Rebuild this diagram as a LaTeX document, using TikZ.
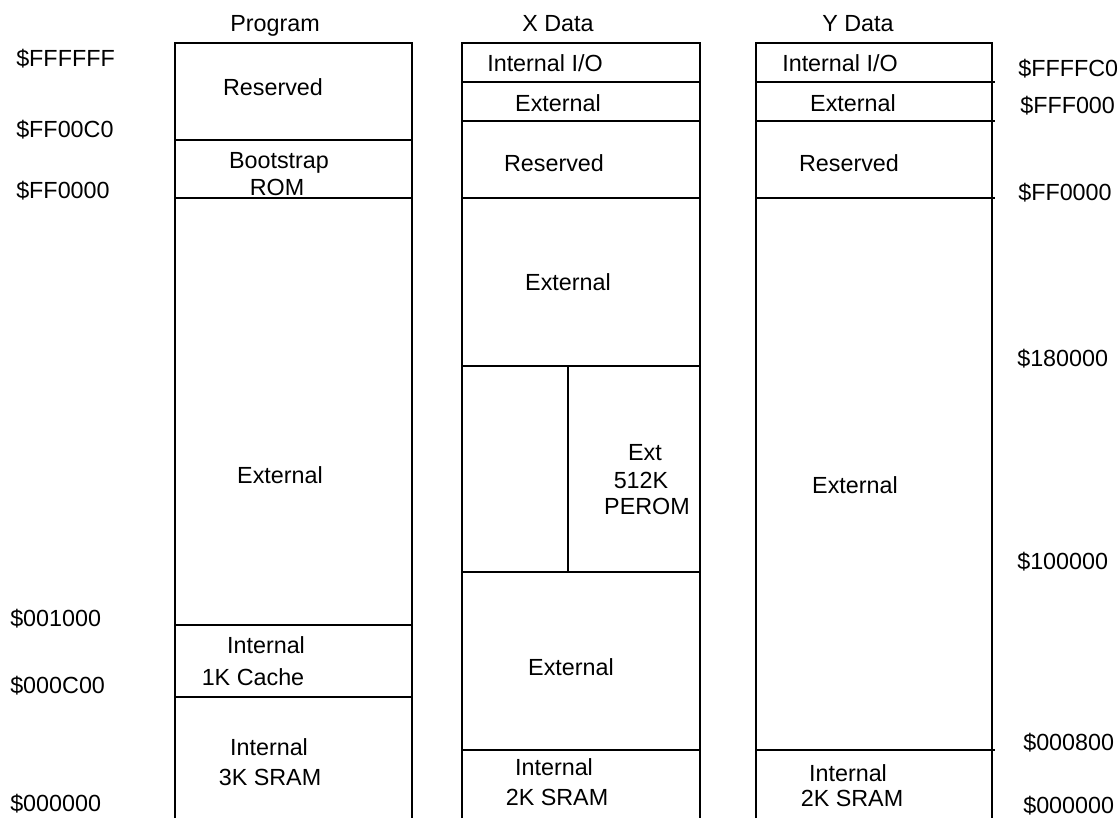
\documentclass[tikz,border=0pt]{standalone}
\usepackage{fontspec}
\setmainfont{Liberation Sans}
\usepackage{xcolor}
\usepackage{tikz}
\definecolor{mapline}{RGB}{0,0,0}
\tikzset{
  col/.style ={draw=mapline, line width=1.8pt, line cap=butt},
  sep/.style ={draw=mapline, line width=1.8pt},
  lab/.style ={font=\fontsize{17.5}{21}\selectfont, inner sep=0pt, text height=12.5pt, text depth=0pt},
  adr/.style ={lab, anchor=west},
}
\begin{document}
\begin{tikzpicture}[x=0.75pt,y=-0.75pt]
  \useasboundingbox (0,0) rectangle (1120,818);
  % headers
  \node[lab] (hprog) at (275,23) {Program};
  \node[lab] (hxdat) at (558,23) {X Data};
  \node[lab] (hydat) at (858,23) {Y Data};
  % program space
  \draw[col] (175,818) -- (175,43) -- (412,43) -- (412,818);
  \draw[sep] (175,140) -- (412,140);
  \draw[sep] (175,198) -- (412,198);
  \draw[sep] (175,625) -- (412,625);
  \draw[sep] (175,697) -- (412,697);
  \node[lab] (pres) at (273,87) {Reserved};
  \node[lab] (pboot) at (279,160) {Bootstrap};
  \node[lab] (prom) at (277,187) {ROM};
  \node[lab] (pext) at (280,475) {External};
  \node[lab] (pcint) at (266,645) {Internal};
  \node[lab] (pcache) at (253,677) {1K Cache};
  \node[lab] (psint) at (269,747) {Internal};
  \node[lab] (psram) at (270,777) {3K SRAM};
  % x data space
  \draw[col] (462,818) -- (462,43) -- (700,43) -- (700,818);
  \draw[sep] (462,82) -- (700,82);
  \draw[sep] (462,121) -- (700,121);
  \draw[sep] (462,198) -- (700,198);
  \draw[sep] (462,366) -- (700,366);
  \draw[sep] (568,366) -- (568,572);
  \draw[sep] (462,572) -- (700,572);
  \draw[sep] (462,750) -- (700,750);
  \node[lab] (xio) at (545,63) {Internal I/O};
  \node[lab] (xext1) at (558,103) {External};
  \node[lab] (xres) at (554,163) {Reserved};
  \node[lab] (xext2) at (568,282) {External};
  \node[lab] (xpext) at (645,452) {Ext};
  \node[lab] (xpsize) at (641,480) {512K};
  \node[lab] (xperom) at (647,506) {PEROM};
  \node[lab] (xext3) at (571,667) {External};
  \node[lab] (xint) at (554,767) {Internal};
  \node[lab] (xsram) at (557,797) {2K SRAM};
  % y data space
  \draw[col] (756,818) -- (756,43) -- (992,43) -- (992,818);
  \draw[sep] (756,82) -- (995,82);
  \draw[sep] (756,121) -- (995,121);
  \draw[sep] (756,198) -- (995,198);
  \draw[sep] (756,750) -- (995,750);
  \node[lab] (yio) at (840,63) {Internal I/O};
  \node[lab] (yext1) at (853,103) {External};
  \node[lab] (yres) at (849,163) {Reserved};
  \node[lab] (yext2) at (855,485) {External};
  \node[lab] (yint) at (848,773) {Internal};
  \node[lab] (ysram) at (852,798) {2K SRAM};
  % addresses, left
  \node[adr] (aFFFFFF) at (16,58) {\$FFFFFF};
  \node[adr] (aFF00C0) at (16,129) {\$FF00C0};
  \node[adr] (aFF0000) at (16,190) {\$FF0000};
  \node[adr] (a001000) at (10,618) {\$001000};
  \node[adr] (a000C00) at (10,685) {\$000C00};
  \node[adr] (a000000) at (10,803) {\$000000};
  % addresses, right
  \node[adr] (bFFFFC0) at (1018,68) {\$FFFFC0};
  \node[adr] (bFFF000) at (1020,105) {\$FFF000};
  \node[adr] (bFF0000) at (1018,192) {\$FF0000};
  \node[adr] (b180000) at (1017,358) {\$180000};
  \node[adr] (b100000) at (1017,561) {\$100000};
  \node[adr] (b000800) at (1023,742) {\$000800};
  \node[adr] (b000000) at (1023,805) {\$000000};
\end{tikzpicture}
\end{document}
